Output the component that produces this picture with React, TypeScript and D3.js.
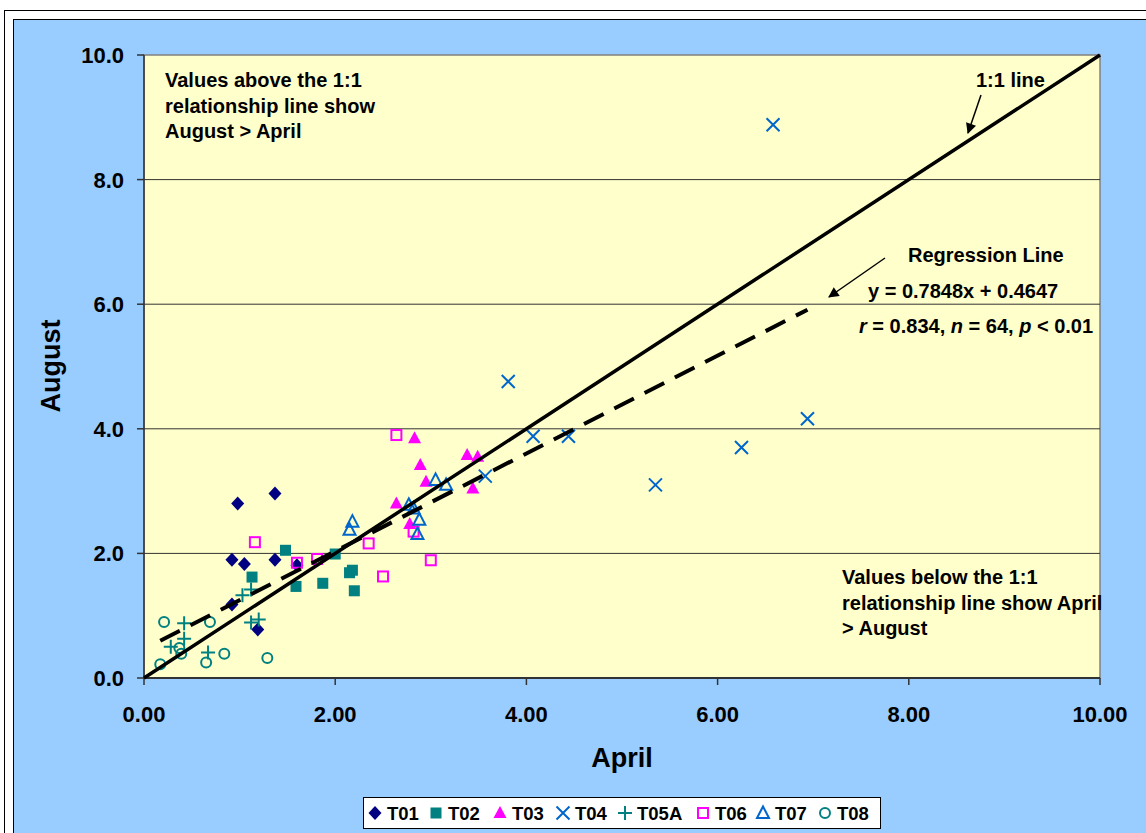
import React from "react";
import * as d3 from "d3";

// April (x) vs August (y) by site
const seriesNames = ["T01", "T02", "T03", "T04", "T05A", "T06", "T07", "T08"];

const t01 = [[0.98, 2.8], [1.37, 2.96], [0.92, 1.9], [1.05, 1.83], [1.37, 1.9], [1.6, 1.81], [0.92, 1.18], [1.19, 0.78]];
const t02 = [[1.48, 2.05], [1.13, 1.62], [1.59, 1.47], [1.87, 1.52], [2.0, 1.99], [2.15, 1.69], [2.18, 1.73], [2.2, 1.4]];
const t03 = [[2.83, 3.85], [2.89, 3.42], [2.95, 3.15], [3.38, 3.58], [3.49, 3.55], [3.44, 3.04], [2.64, 2.8], [2.78, 2.47]];
const t04 = [[3.57, 3.24], [3.81, 4.76], [4.07, 3.88], [4.44, 3.88], [5.35, 3.1], [6.25, 3.7], [6.94, 4.16], [6.58, 8.88]];
const t05a = [[0.42, 0.88], [0.42, 0.63], [0.28, 0.5], [0.67, 0.41], [1.12, 0.89], [1.2, 0.94], [1.03, 1.33], [1.12, 1.42]];
const t06 = [[1.16, 2.18], [1.6, 1.85], [1.81, 1.91], [2.64, 3.9], [2.35, 2.16], [3.0, 1.89], [2.5, 1.63], [2.82, 2.35]];
const t07 = [[2.18, 2.51], [2.15, 2.38], [3.05, 3.18], [3.16, 3.1], [2.77, 2.78], [2.82, 2.72], [2.88, 2.54], [2.86, 2.31]];
const t08 = [[0.21, 0.9], [0.69, 0.9], [0.37, 0.48], [0.39, 0.39], [0.17, 0.22], [0.65, 0.25], [0.84, 0.39], [1.29, 0.32]];

const seriesData = [t01, t02, t03, t04, t05a, t06, t07, t08];
const markers = ["diamond", "square", "triangle", "x", "plus", "openSquare", "openTriangle", "circle"];
const colors = ["#000080", "#008080", "#FF00FF", "#0066CC", "#008080", "#FF00FF", "#0066CC", "#008080"];

const xTicks = [0, 2, 4, 6, 8, 10];
const yTicks = [0, 2, 4, 6, 8, 10];
const slope = 0.7848;
const intercept = 0.4647;

const margin = { left: 144, top: 55, right: 1100, bottom: 678 };
const font = "'Liberation Sans', Arial, sans-serif";

function Marker({ type, x, y, color }: { type: string; x: number; y: number; color: string }) {
  switch (type) {
    case "diamond":
      return <path d={`M${x},${y - 7}L${x + 6.5},${y}L${x},${y + 7}L${x - 6.5},${y}Z`} fill={color} />;
    case "square":
      return <rect x={x - 5.5} y={y - 5.5} width={11} height={11} fill={color} />;
    case "triangle":
      return <path d={`M${x},${y - 7}L${x + 6.5},${y + 5}L${x - 6.5},${y + 5}Z`} fill={color} />;
    case "openSquare":
      return <rect x={x - 5} y={y - 5} width={10} height={10} fill="none" stroke={color} strokeWidth={2} />;
    case "openTriangle":
      return <path d={`M${x},${y - 6.5}L${x + 6},${y + 5}L${x - 6},${y + 5}Z`} fill="none" stroke={color} strokeWidth={2} />;
    case "x":
      return <path d={`M${x - 6.5},${y - 6.5}L${x + 6.5},${y + 6.5}M${x + 6.5},${y - 6.5}L${x - 6.5},${y + 6.5}`} stroke={color} strokeWidth={2} />;
    case "plus":
      return <path d={`M${x - 7},${y}L${x + 7},${y}M${x},${y - 7}L${x},${y + 7}`} stroke={color} strokeWidth={2} />;
    default:
      return <circle cx={x} cy={y} r={5} fill="none" stroke={color} strokeWidth={2} />;
  }
}

export default function App() {
  const xScale = d3.scaleLinear().domain([0, 10]).range([margin.left, margin.right]);
  const yScale = d3.scaleLinear().domain([0, 10]).range([margin.bottom, margin.top]);

  const allX = seriesData.flat().map((d) => d[0]);
  const xMin = d3.min(allX) as number;
  const xMax = d3.max(allX) as number;

  const line = d3
    .line<number>()
    .x((d) => xScale(d))
    .y((d) => yScale(slope * d + intercept));
  const oneToOne = d3
    .line<number>()
    .x((d) => xScale(d))
    .y((d) => yScale(d));

  const legendX = [375, 436, 500, 563, 625, 703, 763, 825];

  return (
    <svg width={1146} height={833} style={{ position: "absolute", left: 0, top: 0 }} fontFamily={font}>
      <defs>
        <marker id="arrow" viewBox="0 0 10 10" refX="9" refY="5" markerWidth="8" markerHeight="7" orient="auto">
          <path d="M0,0L10,5L0,10Z" fill="#000" />
        </marker>
      </defs>
      <rect x={0} y={0} width={1146} height={833} fill="#fff" />
      <rect x={4.5} y={10.5} width={1200} height={900} fill="none" stroke="#000" strokeWidth={1} />
      <rect x={13.5} y={19.5} width={1200} height={900} fill="#99CCFF" stroke="#000" strokeWidth={1} />
      <rect x={margin.left} y={margin.top} width={margin.right - margin.left} height={margin.bottom - margin.top} fill="#FFFFCC" stroke="#808080" strokeWidth={1.5} />

      {yTicks.slice(1, -1).map((t) => (
        <line key={t} x1={margin.left} x2={margin.right} y1={yScale(t)} y2={yScale(t)} stroke="#333" strokeWidth={1} />
      ))}

      {/* axes */}
      <line x1={margin.left} x2={margin.left} y1={margin.top} y2={margin.bottom} stroke="#333" strokeWidth={1.5} />
      <line x1={margin.left} x2={margin.right} y1={margin.bottom} y2={margin.bottom} stroke="#333" strokeWidth={2} />
      {yTicks.map((t) => (
        <g key={t}>
          <line x1={margin.left - 7} x2={margin.left} y1={yScale(t)} y2={yScale(t)} stroke="#333" strokeWidth={1.5} />
          <text x={124} y={yScale(t) + 8} textAnchor="end" fontSize={22} fontWeight="bold">
            {t.toFixed(1)}
          </text>
        </g>
      ))}
      {xTicks.map((t) => (
        <g key={t}>
          <line x1={xScale(t)} x2={xScale(t)} y1={margin.bottom} y2={margin.bottom + 7} stroke="#333" strokeWidth={1.5} />
          <text x={xScale(t)} y={722} textAnchor="middle" fontSize={22} fontWeight="bold">
            {t.toFixed(2)}
          </text>
        </g>
      ))}
      <text x={622} y={767} textAnchor="middle" fontSize={27} fontWeight="bold">
        April
      </text>
      <text transform={`translate(60,366) rotate(-90)`} textAnchor="middle" fontSize={27} fontWeight="bold">
        August
      </text>

      {/* points */}
      {seriesData.map((s, i) =>
        s.map((d, j) => <Marker key={`${i}-${j}`} type={markers[i]} x={xScale(d[0])} y={yScale(d[1])} color={colors[i]} />)
      )}

      {/* lines */}
      <path d={oneToOne([0, 10]) as string} stroke="#000" strokeWidth={3.5} fill="none" />
      <path d={line([xMin, xMax]) as string} stroke="#000" strokeWidth={4} strokeDasharray="22 12" fill="none" />

      {/* annotations */}
      <g fontSize={20} fontWeight="bold">
        <text x={165} y={87}>Values above the 1:1</text>
        <text x={165} y={113}>relationship line show</text>
        <text x={165} y={138}>August &gt; April</text>
        <text x={976} y={87}>1:1 line</text>
        <text x={908} y={262}>Regression Line</text>
        <text x={868} y={298}>y = 0.7848x + 0.4647</text>
        <text x={859} y={333}>
          <tspan fontStyle="italic">r</tspan> = 0.834, <tspan fontStyle="italic">n</tspan> = 64,{" "}
          <tspan fontStyle="italic">p</tspan> &lt; 0.01
        </text>
        <text x={842} y={584}>Values below the 1:1</text>
        <text x={842} y={610}>relationship line show April</text>
        <text x={842} y={635}>&gt; August</text>
      </g>
      <line x1={981} y1={95} x2={968} y2={133} stroke="#000" strokeWidth={1.5} markerEnd="url(#arrow)" />
      <line x1={885} y1={258} x2={829} y2={297} stroke="#000" strokeWidth={1.5} markerEnd="url(#arrow)" />

      {/* legend */}
      <rect x={363.5} y={797.5} width={517} height={31} fill="#fff" stroke="#000" strokeWidth={1} />
      {seriesNames.map((name, i) => (
        <g key={name}>
          <Marker type={markers[i]} x={legendX[i]} y={813} color={colors[i]} />
          <text x={legendX[i] + 12} y={819.5} fontSize={18.5} fontWeight="bold">
            {name}
          </text>
        </g>
      ))}
    </svg>
  );
}
